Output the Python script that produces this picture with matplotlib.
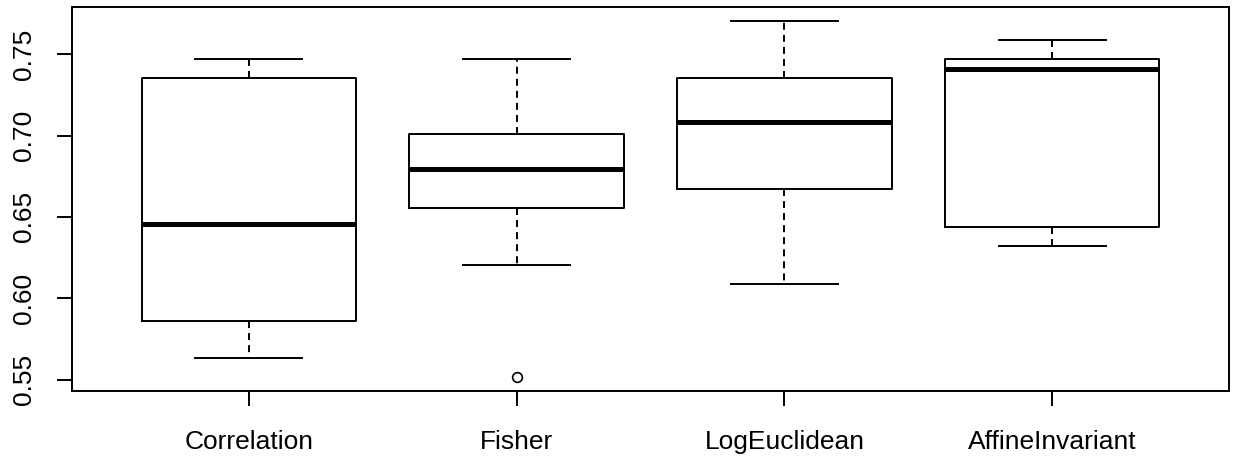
import matplotlib
matplotlib.use("Agg")
import matplotlib.pyplot as plt

plt.rcParams['font.family'] = ['Liberation Sans', 'DejaVu Sans']

# values (R style boxplot)
methods = ["Correlation", "Fisher", "LogEuclidean", "AffineInvariant"]
whislo = [0.5635, 0.6207, 0.6090, 0.6320]
q1 = [0.5859, 0.6553, 0.6673, 0.6441]
med = [0.6458, 0.6796, 0.7080, 0.7407]
q3 = [0.7351, 0.7007, 0.7355, 0.7468]
whishi = [0.7468, 0.7468, 0.7702, 0.7585]
fliers = [[], [0.5518], [], []]
yticks = [0.55, 0.60, 0.65, 0.70, 0.75]

stats = []
for i in range(len(methods)):
    stats.append(dict(label=methods[i], whislo=whislo[i], q1=q1[i], med=med[i],
                      q3=q3[i], whishi=whishi[i], fliers=fliers[i]))

fig = plt.figure(figsize=(12.35, 4.62), dpi=100)
ax = fig.add_axes([0.0583, 0.1537, 0.9368, 0.8311])

lw = 1.4
ax.bxp(stats, positions=range(1, len(methods) + 1), widths=0.8,
       boxprops=dict(color="black", linewidth=lw),
       medianprops=dict(color="black", linewidth=3.6, solid_capstyle="butt"),
       whiskerprops=dict(color="black", linewidth=lw, linestyle=(0, (3.6, 2.6))),
       capprops=dict(color="black", linewidth=lw),
       capwidths=0.4,
       flierprops=dict(marker="o", markersize=7, markerfacecolor="none",
                       markeredgecolor="black", markeredgewidth=1.2))

# R default: 4% padding on both axes
lo = min(whislo + [f for fl in fliers for f in fl])
hi = max(whishi)
pad = (hi - lo) * 0.04
ax.set_ylim(lo - pad, hi + pad)
ax.set_xlim(0.5 - 0.16, len(methods) + 0.5 + 0.16)

ax.set_yticks(yticks)
ax.set_yticklabels([f"{t:.2f}" for t in yticks], rotation=90, va="center")
ax.set_xticks(range(1, len(methods) + 1))
ax.set_xticklabels(methods)
ax.tick_params(axis="both", labelsize=19, length=11, width=lw, color="black")
ax.tick_params(axis="x", pad=17)
ax.tick_params(axis="y", pad=15)
for s in ax.spines.values():
    s.set_linewidth(lw)

fig.savefig("out.png", dpi=100)
